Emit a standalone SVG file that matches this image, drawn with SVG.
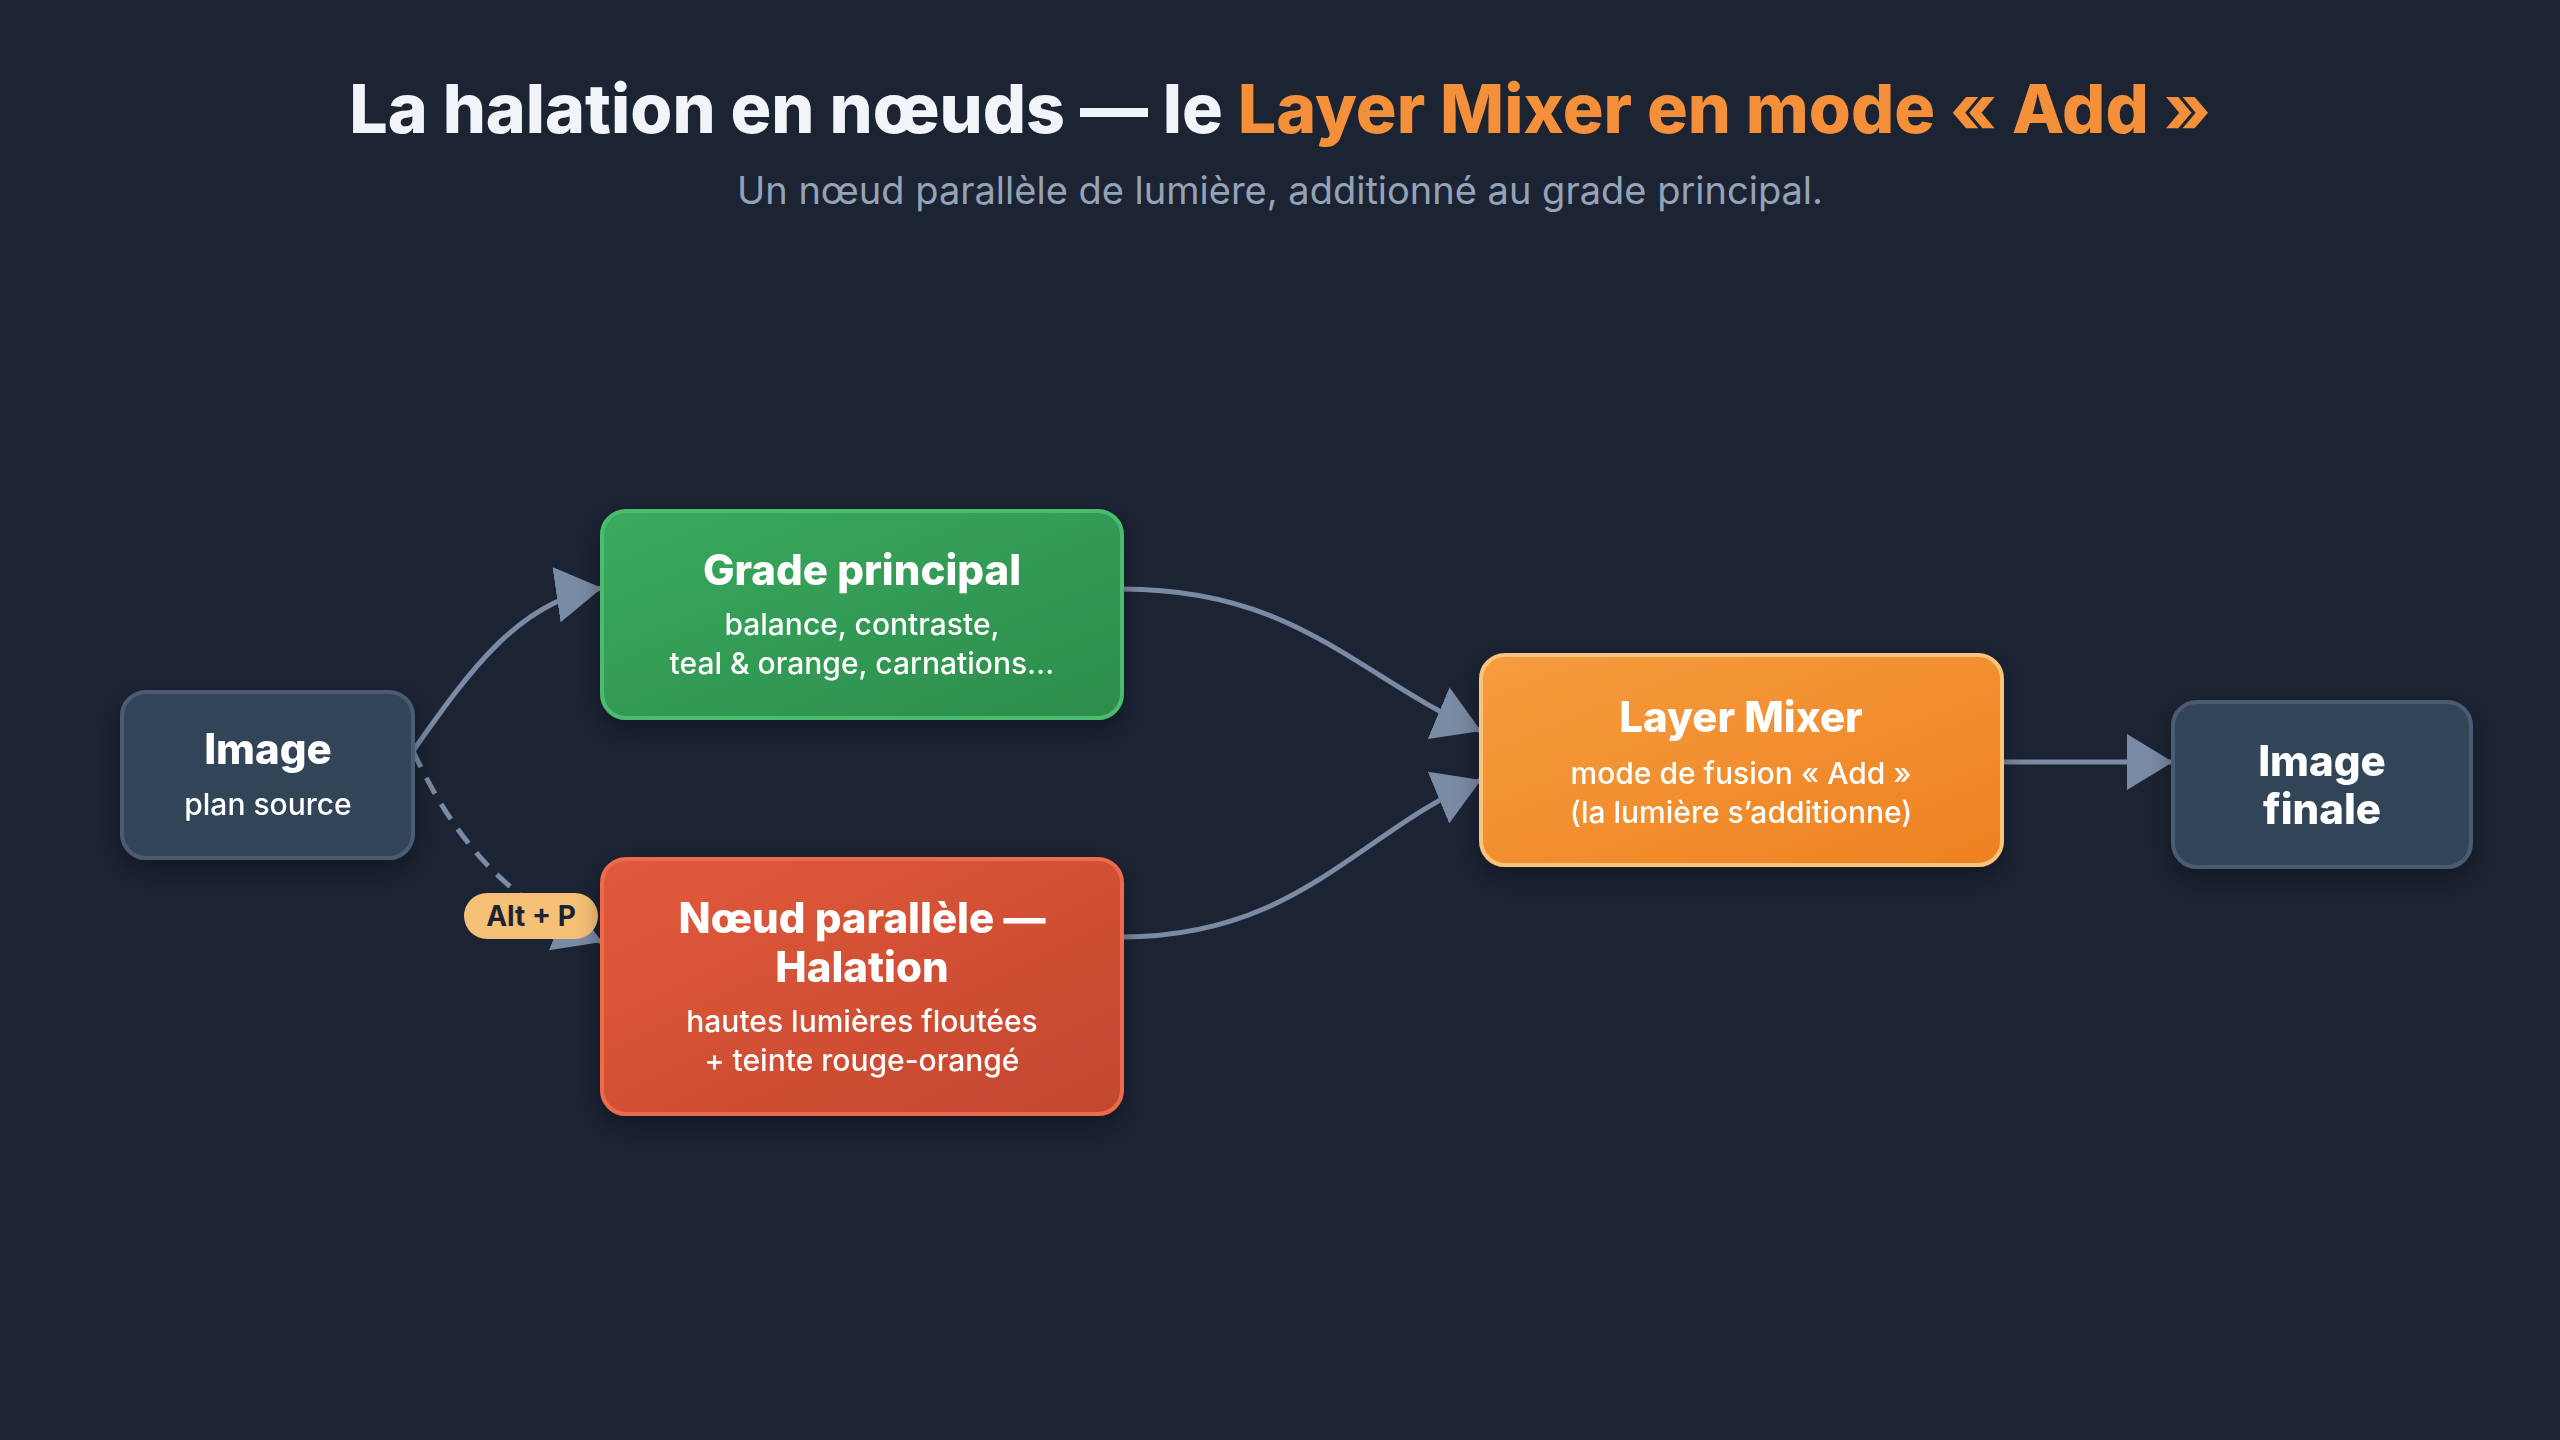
<svg xmlns="http://www.w3.org/2000/svg" width="2560" height="1440" viewBox="0 0 2560 1440">
<defs>
<style>
.t{font-family:Inter,"Noto Sans",sans-serif;fill:#fff;text-anchor:middle}
.h{font-size:42px;font-weight:800}
.s{font-size:30px;font-weight:500}
.c{fill:none;stroke:#7a8ba5;stroke-width:5}
</style>
<linearGradient id="g" x1="0" y1="0" x2="1" y2="1"><stop offset="0" stop-color="#39aa5e"/><stop offset="1" stop-color="#2d8c4c"/></linearGradient>
<linearGradient id="r" x1="0" y1="0" x2="1" y2="1"><stop offset="0" stop-color="#e2593b"/><stop offset="1" stop-color="#c2472e"/></linearGradient>
<linearGradient id="o" x1="0" y1="0" x2="1" y2="1"><stop offset="0" stop-color="#f59d3e"/><stop offset="1" stop-color="#ee8122"/></linearGradient>
<filter id="sh" x="-20%" y="-20%" width="140%" height="150%"><feDropShadow dx="0" dy="10" stdDeviation="12" flood-color="#000" flood-opacity="0.35"/></filter>
<marker id="a" markerUnits="userSpaceOnUse" markerWidth="50" markerHeight="56" refX="46" refY="28" orient="auto"><path d="M0,0 L46,28 L0,56 Z" fill="#7a8ba5"/></marker>
</defs>
<rect width="2560" height="1440" fill="#1c2333"/>
<text x="1280" y="133" class="t" style="font-size:68px;font-weight:800;fill:#f1f4f8">La halation en nœuds — le <tspan fill="#f5903a">Layer Mixer en mode « Add »</tspan></text>
<text x="1280" y="204" class="t" style="font-size:38px;fill:#94a3b8">Un nœud parallèle de lumière, additionné au grade principal.</text>
<g id="connectors">
<path class="c" marker-end="url(#a)" d="M413,751 C470,670 520,600 602,588"/>
<path class="c" stroke-dasharray="18,12" marker-end="url(#a)" d="M413,751 C450,830 500,900 602,942"/>
<path class="c" marker-end="url(#a)" d="M1122,589 C1300,589 1360,680 1481,731"/>
<path class="c" marker-end="url(#a)" d="M1122,937 C1300,937 1360,830 1481,780"/>
<path class="c" marker-end="url(#a)" d="M2002,762 L2173,762"/>
<g id="label-altp"><rect x="464" y="893" width="134" height="46" rx="23" fill="#f6c177"/><text x="531" y="926" class="t" style="font-size:28px;font-weight:700;fill:#1c2333">Alt + P</text></g>
</g>
<g id="image" filter="url(#sh)"><rect x="122" y="692" width="291" height="166" rx="24" fill="#334559" stroke="#4b5b72" stroke-width="4"/><text x="268" y="764" class="t h">Image</text><text x="268" y="815" class="t s">plan source</text></g>
<g id="grade" filter="url(#sh)"><rect x="602" y="511" width="520" height="207" rx="24" fill="url(#g)" stroke="#4cbb6e" stroke-width="4"/><text x="862" y="585" class="t h">Grade principal</text><text x="862" y="635" class="t s">balance, contraste,</text><text x="862" y="674" class="t s">teal &amp; orange, carnations…</text></g>
<g id="noeud" filter="url(#sh)"><rect x="602" y="859" width="520" height="255" rx="24" fill="url(#r)" stroke="#ee6a4e" stroke-width="4"/><text x="862" y="933" class="t h">Nœud parallèle —</text><text x="862" y="982" class="t h">Halation</text><text x="862" y="1032" class="t s">hautes lumières floutées</text><text x="862" y="1071" class="t s">+ teinte rouge-orangé</text></g>
<g id="mixer" filter="url(#sh)"><rect x="1481" y="655" width="521" height="210" rx="24" fill="url(#o)" stroke="#fbc47c" stroke-width="4"/><text x="1741" y="732" class="t h">Layer Mixer</text><text x="1741" y="784" class="t s">mode de fusion « Add »</text><text x="1741" y="823" class="t s">(la lumière s’additionne)</text></g>
<g id="finale" filter="url(#sh)"><rect x="2173" y="702" width="298" height="165" rx="24" fill="#334559" stroke="#4b5b72" stroke-width="4"/><text x="2322" y="776" class="t h">Image</text><text x="2322" y="824" class="t h">finale</text></g>
</svg>
